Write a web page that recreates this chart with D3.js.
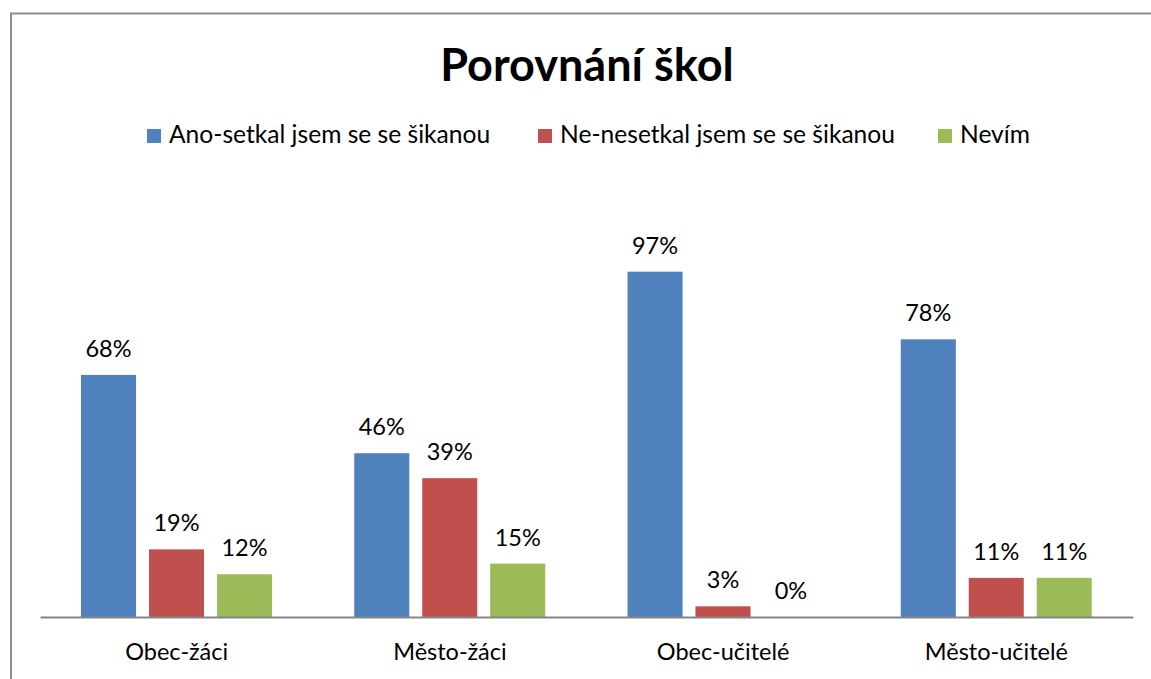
<!DOCTYPE html>
<html>
<head>
<meta charset="utf-8">
<script src="https://cdn.jsdelivr.net/npm/d3@7"></script>
<style>
  body { margin: 0; background: #fff; }
  text { font-family: Lato, "Open Sans", sans-serif; fill: #000; }
</style>
</head>
<body>
<script>
var categories = ["Obec-žáci", "Město-žáci", "Obec-učitelé", "Město-učitelé"]
var seriesNames = ["Ano-setkal jsem se se šikanou", "Ne-nesetkal jsem se se šikanou", "Nevím"]
var ano = [0.68, 0.46, 0.97, 0.78]
var ne = [0.19, 0.39, 0.03, 0.11]
var nevim = [0.12, 0.15, 0.00, 0.11]
var colors = ["#4F81BD", "#C0504D", "#9BBB59"]

var series = [ano, ne, nevim]

var svg = d3.select("body")
      .append("svg")
      .attr("width", 1151)
      .attr("height", 679)

// chart frame (only left and top edges are in view)
svg.append("path")
  .attr("d", "M11,679 V13.5 H1151")
  .attr("fill", "none")
  .attr("stroke", "#8c8c8c")
  .attr("stroke-width", 2)

svg.append("text")
  .attr("x", 587)
  .attr("y", 81)
  .attr("text-anchor", "middle")
  .style("font-size", "45px")
  .style("font-weight", "bold")
  .text("Porovnání škol")

// legend
var legendX = [147, 538, 938]
var legend = svg.append("g").selectAll("g")
  .data(seriesNames)
  .enter().append("g")
  .attr("transform", function(d, i){ return "translate(" + legendX[i] + ",129)" })

legend.append("rect")
  .attr("width", 14)
  .attr("height", 14)
  .attr("fill", function(d, i){ return colors[i] })

legend.append("text")
  .attr("x", 22)
  .attr("y", 14)
  .style("font-size", "24.6px")
  .text(function(d){ return d })

var x = d3.scaleBand()
  .domain(categories)
  .range([40, 1133])

var x1 = d3.scaleBand()
  .domain([0, 1, 2])
  .range([41, 232])
  .paddingInner(0.19)

var y = d3.scaleLinear()
  .domain([0, 1])
  .range([617, 261])

var fmt = d3.format(".0%")

var groups = svg.append("g").selectAll("g")
  .data(categories)
  .enter().append("g")
  .attr("transform", function(d){ return "translate(" + x(d) + ",0)" })

groups.selectAll("rect")
  .data(function(d, ci){ return series.map(function(s, si){ return {s: si, v: s[ci]} }) })
  .enter().append("rect")
  .attr("x", function(d){ return x1(d.s) })
  .attr("width", x1.bandwidth())
  .attr("y", function(d){ return y(d.v) })
  .attr("height", function(d){ return y(0) - y(d.v) })
  .attr("fill", function(d){ return colors[d.s] })

groups.selectAll("text")
  .data(function(d, ci){ return series.map(function(s, si){ return {s: si, v: s[ci]} }) })
  .enter().append("text")
  .attr("x", function(d){ return x1(d.s) + x1.bandwidth() / 2 })
  .attr("y", function(d){ return y(d.v) - 18 })
  .attr("text-anchor", "middle")
  .style("font-size", "23.5px")
  .text(function(d){ return fmt(d.v) })

var axis = svg.append("g")
  .attr("transform", "translate(0," + y(0) + ")")
  .call(d3.axisBottom(x).tickSize(0).tickPadding(26))

axis.select(".domain").attr("stroke", "#868686").attr("stroke-width", 2)
axis.selectAll("text")
  .style("font-size", "23.5px")
  .style("font-family", "Lato, sans-serif")
  .attr("fill", "#000")
</script>
</body>
</html>
